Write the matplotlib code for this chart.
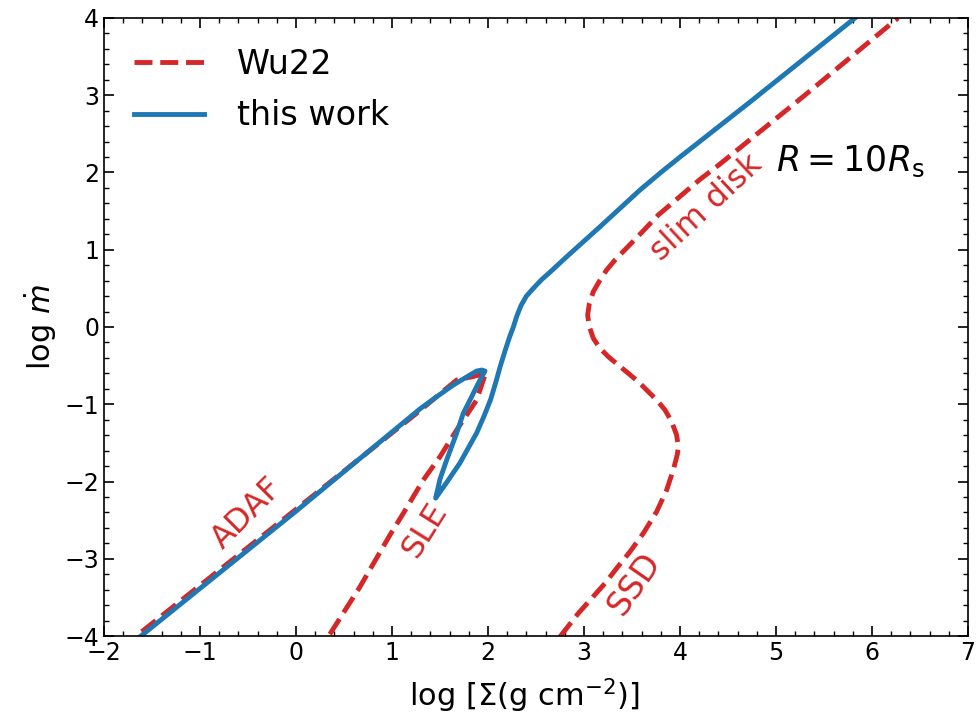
import matplotlib
matplotlib.use("Agg")
import matplotlib.pyplot as plt
from matplotlib.ticker import MultipleLocator

# ---- data ----
# this work (blue): ADAF branch -> cusp -> SLE branch -> back up to slim-disk branch
blue_x = [-1.625, 0.0, 1.292, 1.466, 1.639, 1.8125, 1.882, 1.934, 1.969, 1.899, 1.83,
          1.743, 1.674, 1.57, 1.50, 1.455, 1.48, 1.56, 1.708, 1.882, 1.96, 2.03,
          2.085, 2.13, 2.18, 2.225, 2.264, 2.30, 2.345, 2.40, 2.472, 2.56, 2.646,
          2.82, 3.167, 3.583, 3.8, 4.0, 4.729, 5.823]
blue_y = [-4.01, -2.385, -1.06, -0.902, -0.751, -0.621, -0.57, -0.557, -0.57, -0.729,
          -0.902, -1.117, -1.372, -1.72, -1.97, -2.215, -2.17, -2.03, -1.76, -1.372,
          -1.15, -0.93, -0.70, -0.50, -0.30, -0.13, 0.0, 0.14, 0.28, 0.40, 0.50,
          0.615, 0.71, 0.91, 1.298, 1.773, 2.0, 2.2, 2.912, 4.0]

# Wu22 (red dashed): ADAF + SLE branch
wu_a_x = [-1.607, 0.0, 1.257, 1.674, 1.85, 1.951, 1.99, 1.969, 1.882, 1.674, 1.5,
          1.326, 1.118, 0.979, 0.667, 0.336]
wu_a_y = [-3.944, -2.36, -1.117, -0.686, -0.64, -0.608, -0.61, -0.621, -0.945, -1.333,
          -1.679, -1.981, -2.412, -2.693, -3.362, -4.009]

# Wu22 (red dashed): SSD + slim disk branch
wu_b_x = [2.75, 2.941, 3.08, 3.219, 3.34, 3.479, 3.618, 3.757, 3.861, 3.93, 3.972,
          3.983, 3.965, 3.913, 3.844, 3.757, 3.67, 3.566, 3.462, 3.357, 3.253, 3.167,
          3.097, 3.056, 3.038, 3.056, 3.097, 3.167, 3.236, 3.323, 3.45, 3.583, 3.774,
          4.0, 4.208, 4.417, 5.3, 6.271]
wu_b_y = [-4.009, -3.706, -3.512, -3.318, -3.124, -2.909, -2.67, -2.39, -2.11, -1.851,
          -1.65, -1.55, -1.398, -1.225, -1.074, -0.945, -0.837, -0.708, -0.6, -0.492,
          -0.384, -0.276, -0.146, 0.004, 0.155, 0.307, 0.457, 0.608, 0.738, 0.867,
          1.03, 1.20, 1.45, 1.69, 1.91, 2.11, 3.0, 4.0]

red = "#d62728"
blue = "#1f77b4"

fig = plt.figure(figsize=(9.77, 7.16), dpi=100)
ax = fig.add_axes([0.1064, 0.1117, 0.8844, 0.8632])

ax.plot(wu_a_x, wu_a_y, color=red, lw=3.5, ls="--", label="Wu22")
ax.plot(wu_b_x, wu_b_y, color=red, lw=3.5, ls="--")
ax.plot(blue_x, blue_y, color=blue, lw=3.5, label="this work",
        solid_joinstyle="round")

ax.set_xlim(-2, 7)
ax.set_ylim(-4, 4)
ax.xaxis.set_major_locator(MultipleLocator(1))
ax.yaxis.set_major_locator(MultipleLocator(1))
ax.xaxis.set_minor_locator(MultipleLocator(0.2))
ax.yaxis.set_minor_locator(MultipleLocator(0.2))
ax.tick_params(which="both", direction="in", top=True, right=True, labelsize=17)
ax.tick_params(which="major", length=7, width=1.2)
ax.tick_params(which="minor", length=3.5, width=1)
for s in ax.spines.values():
    s.set_linewidth(1.2)

ax.set_xlabel(r"$\log\,[\Sigma({\rm g\ cm^{-2}})]$", fontsize=22, labelpad=7)
ax.xaxis.set_label_coords(0.487, -0.065)
ax.set_ylabel(r"$\log\,\dot{m}$", fontsize=22)

ax.text(-0.51, -2.42, "ADAF", color=red, fontsize=23, rotation=45, ha="center", va="center")
ax.text(1.34, -2.63, "SLE", color=red, fontsize=23, rotation=58, ha="center", va="center")
ax.text(3.53, -3.32, "SSD", color=red, fontsize=24, rotation=55, ha="center", va="center")
ax.text(4.28, 1.54, "slim disk", color=red, fontsize=23, rotation=43, ha="center", va="center")
ax.text(5.77, 2.15, r"$R = 10R_{\rm s}$", color="black", fontsize=25, ha="center", va="center")

ax.legend(loc="upper left", frameon=False, fontsize=24, handlelength=2.1,
          handletextpad=1.0, borderaxespad=0.5, labelspacing=0.55)

fig.savefig("out.png", dpi=100)
